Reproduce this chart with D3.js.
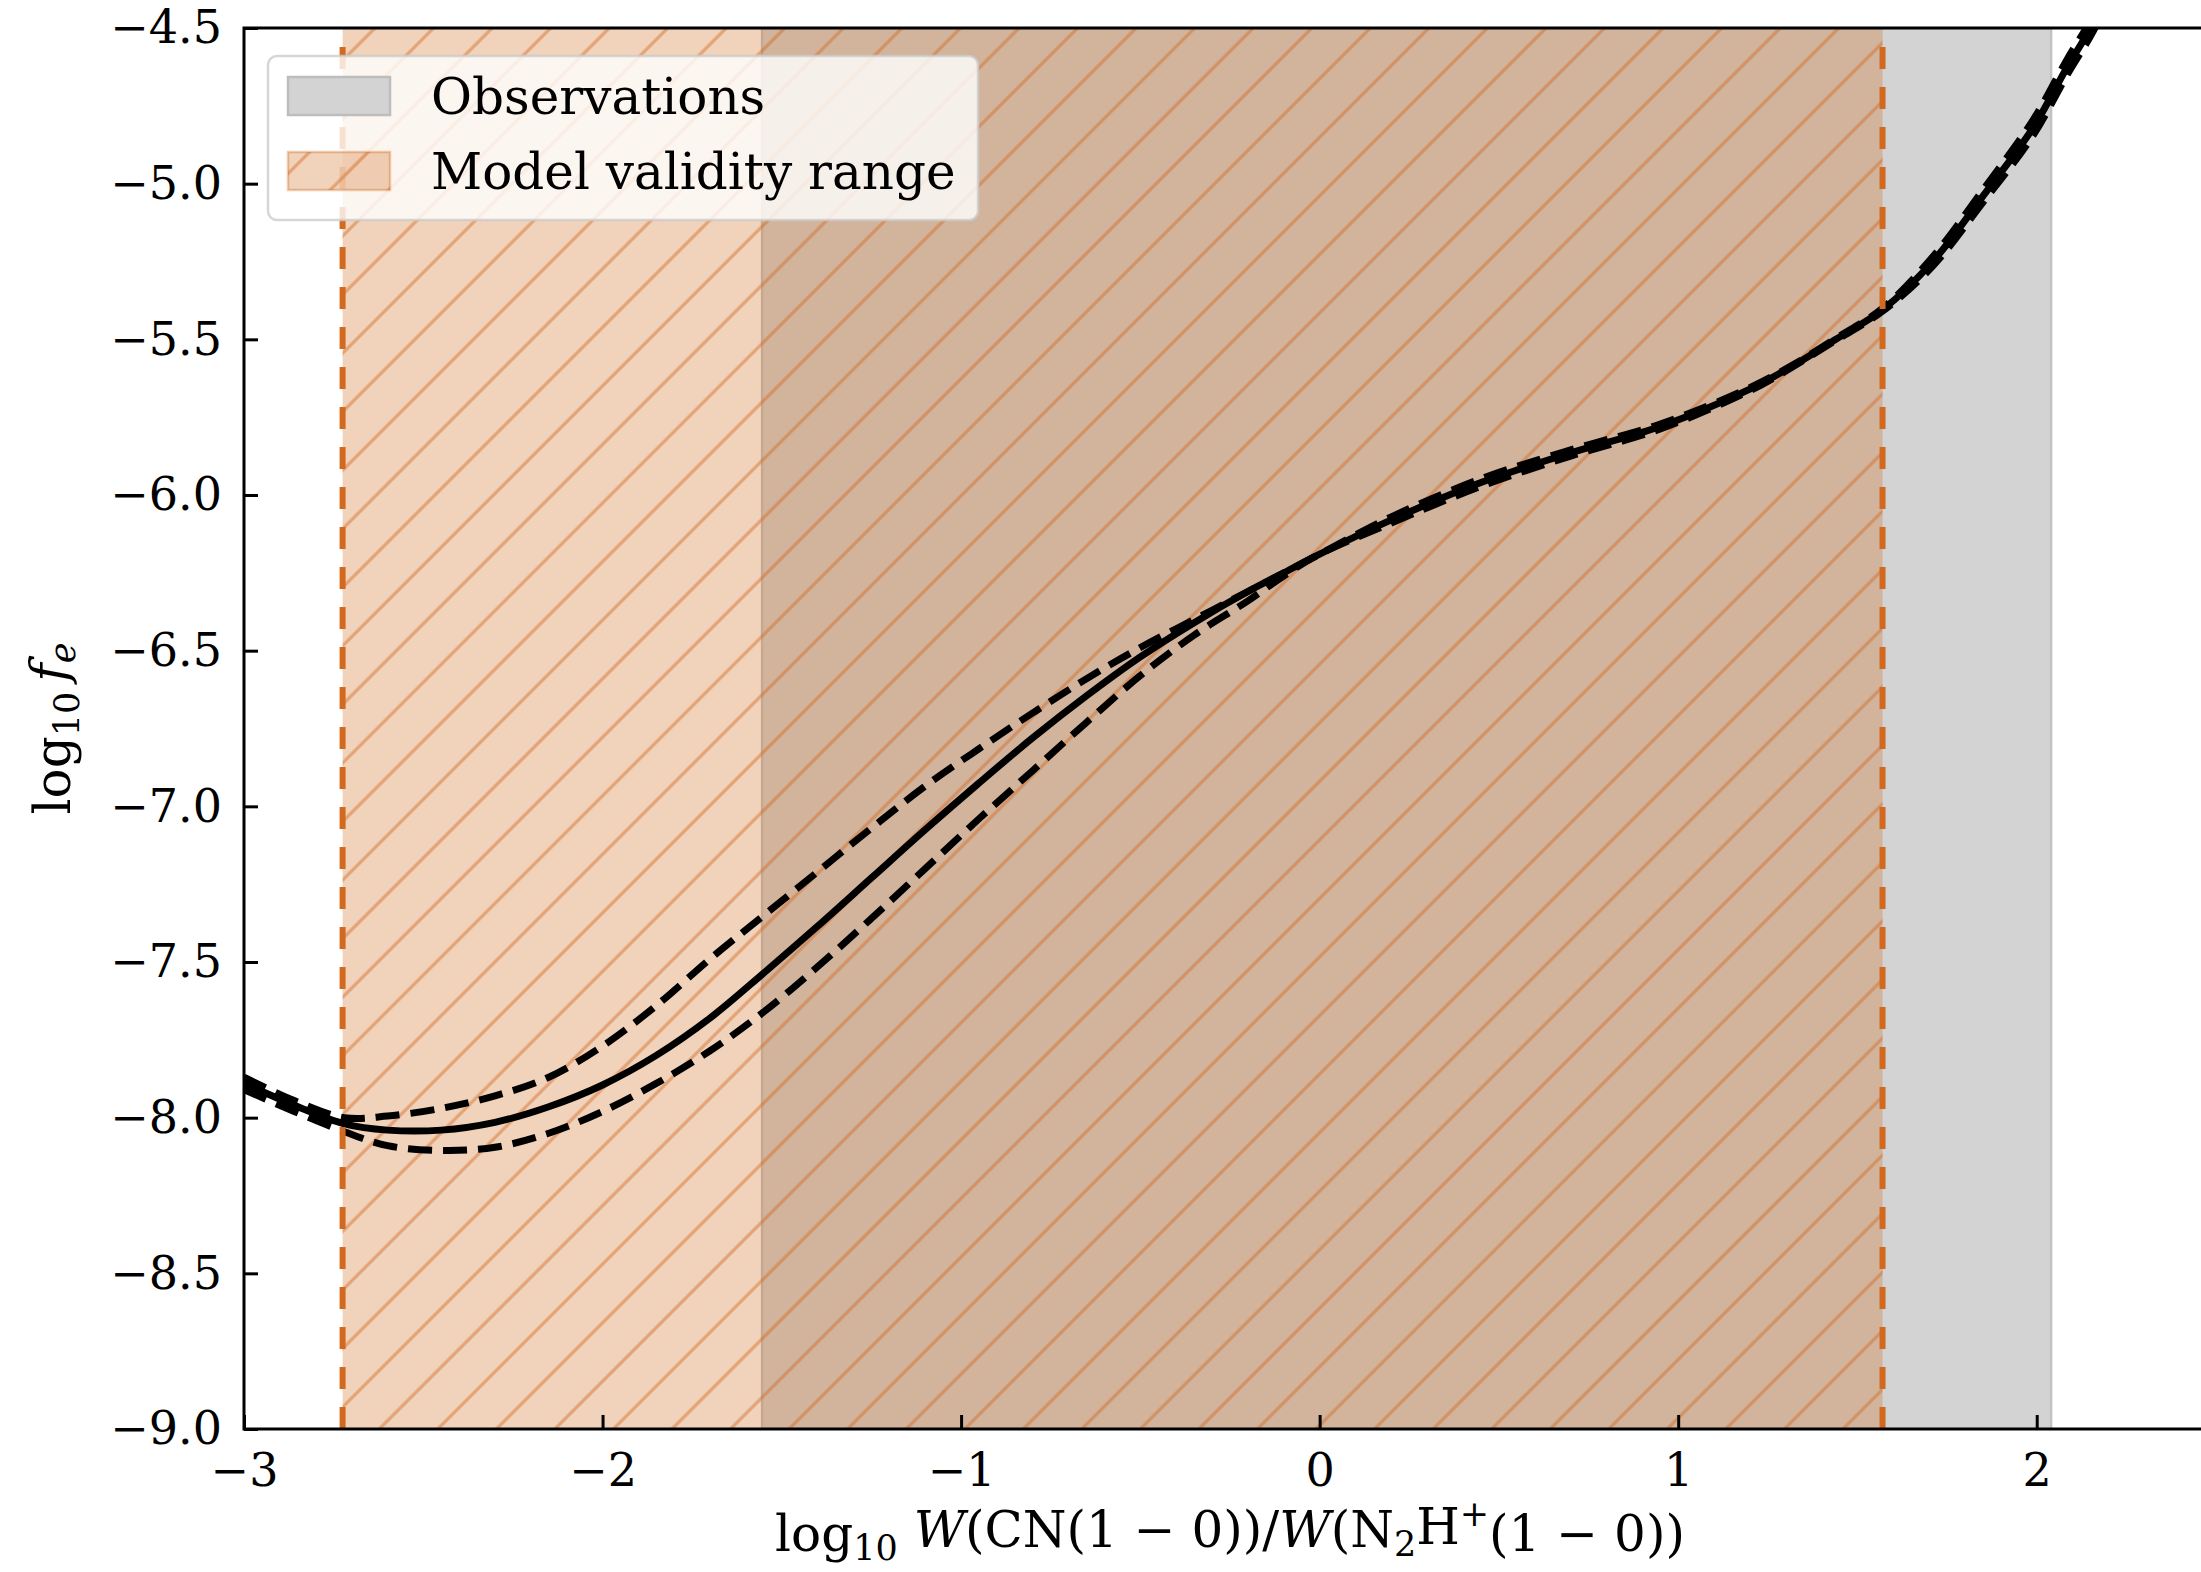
<!DOCTYPE html>
<html>
<head>
<meta charset="utf-8">
<script src="https://cdn.jsdelivr.net/npm/d3@7"></script>
<style>
  body { margin: 0; background: #ffffff; }
  svg text { font-family: "DejaVu Serif", serif; fill: #000; }
</style>
</head>
<body>
<script>
// x values of the sampled relation, log10 W(CN)/W(N2H+)
const ratioGrid = [-3.0, -2.86, -2.72, -2.6, -2.45, -2.3, -2.15, -2.0, -1.85, -1.7,
  -1.55, -1.4, -1.25, -1.1, -0.95, -0.8, -0.65, -0.5, -0.35, -0.2, -0.1, 0.0,
  0.2, 0.45, 0.7, 0.95, 1.2, 1.32, 1.44, 1.57, 1.71, 1.85, 1.99, 2.085, 2.16, 2.25];

// log10 f_e : best fit (solid) and the two bounds (dashed)
const feBest = [-7.89, -7.96, -8.02, -8.04, -8.04, -8.015, -7.965, -7.895, -7.80, -7.68,
  -7.535, -7.385, -7.23, -7.075, -6.925, -6.78, -6.645, -6.52, -6.41, -6.31, -6.25, -6.19,
  -6.08, -5.96, -5.865, -5.78, -5.66, -5.585, -5.50, -5.405, -5.25, -5.04, -4.82, -4.625, -4.48, -4.25];
const feUpper = [-7.87, -7.945, -8.0, -7.995, -7.97, -7.93, -7.87, -7.77, -7.64, -7.49,
  -7.35, -7.21, -7.07, -6.935, -6.815, -6.70, -6.59, -6.49, -6.40, -6.31, -6.25, -6.19,
  -6.07, -5.948, -5.855, -5.772, -5.655, -5.582, -5.497, -5.40, -5.235, -5.02, -4.795, -4.60, -4.455, -4.22];
const feLower = [-7.91, -7.98, -8.045, -8.09, -8.105, -8.095, -8.05, -7.98, -7.89, -7.785,
  -7.66, -7.515, -7.36, -7.20, -7.04, -6.885, -6.73, -6.58, -6.45, -6.34, -6.26, -6.19,
  -6.09, -5.972, -5.875, -5.788, -5.665, -5.588, -5.503, -5.41, -5.265, -5.06, -4.845, -4.65, -4.505, -4.28];

const obsRange = [-1.555, 2.04];
const validRange = [-2.725, 1.57];

const xTicks = [-3, -2, -1, 0, 1, 2];
const yTicks = [-4.5, -5.0, -5.5, -6.0, -6.5, -7.0, -7.5, -8.0, -8.5, -9.0];
const legendLabels = ["Observations", "Model validity range"];

const width = 2201, height = 1572;
const orange = "#d2691e";

const x = d3.scaleLinear().domain([-3, 2.5]).range([244, 2216]);
const y = d3.scaleLinear().domain([-9, -4.5]).range([1429, 28]);

const svg = d3.select("body").append("svg")
    .attr("width", width)
    .attr("height", height);

const defs = svg.append("defs");
defs.append("clipPath").attr("id", "plotclip")
  .append("rect")
    .attr("x", x.range()[0]).attr("y", y.range()[1])
    .attr("width", x.range()[1] - x.range()[0])
    .attr("height", y.range()[0] - y.range()[1]);

// '/' hatch, 45 degrees, about 58.6 px apart along x
const hatchStep = 41.4;
const hatch = defs.append("pattern")
    .attr("id", "hatch")
    .attr("patternUnits", "userSpaceOnUse")
    .attr("width", hatchStep).attr("height", hatchStep)
    .attr("patternTransform", "rotate(45)");
hatch.append("rect")
    .attr("x", 36.6 - 1.6).attr("y", 0)
    .attr("width", 3.2).attr("height", hatchStep)
    .attr("fill", "rgba(210,105,30,0.45)");

const plot = svg.append("g").attr("clip-path", "url(#plotclip)");

// observations band
plot.append("rect")
    .attr("x", x(obsRange[0])).attr("y", y(-4.5))
    .attr("width", x(obsRange[1]) - x(obsRange[0]))
    .attr("height", y(-9) - y(-4.5))
    .attr("fill", "#d3d3d3")
    .attr("stroke", "#c2c2c2").attr("stroke-width", 2.5);

// model validity band: translucent fill + hatch
plot.append("rect")
    .attr("x", x(validRange[0])).attr("y", y(-4.5))
    .attr("width", x(validRange[1]) - x(validRange[0]))
    .attr("height", y(-9) - y(-4.5))
    .attr("fill", orange).attr("fill-opacity", 0.3);
plot.append("rect")
    .attr("x", x(validRange[0])).attr("y", y(-4.5))
    .attr("width", x(validRange[1]) - x(validRange[0]))
    .attr("height", y(-9) - y(-4.5))
    .attr("fill", "url(#hatch)");

const line = d3.line()
    .x(d => x(d[0]))
    .y(d => y(d[1]))
    .curve(d3.curveCatmullRom.alpha(0.5));

const series = [
  {vals: feUpper, dash: "24,11"},
  {vals: feLower, dash: "24,11"},
  {vals: feBest, dash: null}
];
series.forEach(s => {
  plot.append("path")
      .datum(ratioGrid.map((r, i) => [r, s.vals[i]]))
      .attr("d", line)
      .attr("fill", "none")
      .attr("stroke", "#000")
      .attr("stroke-width", 7)
      .attr("stroke-dasharray", s.dash);
});

// validity limits
validRange.forEach(v => {
  plot.append("line")
      .attr("x1", x(v)).attr("x2", x(v))
      .attr("y1", y(-9)).attr("y2", y(-4.5))
      .attr("stroke", orange)
      .attr("stroke-width", 6)
      .attr("stroke-dasharray", "22,18");
});

// axes, ticks pointing inward
const xAxis = d3.axisBottom(x)
    .tickValues(xTicks)
    .tickSizeInner(-14).tickSizeOuter(0)
    .tickPadding(24)
    .tickFormat(d3.format("d"));
const yAxis = d3.axisLeft(y)
    .tickValues(yTicks)
    .tickSizeInner(-14).tickSizeOuter(0)
    .tickPadding(22)
    .tickFormat(d3.format(".1f"));

const gx = svg.append("g")
    .attr("transform", "translate(0," + y(-9) + ")")
    .call(xAxis);
const gy = svg.append("g")
    .attr("transform", "translate(" + x(-3) + ",0)")
    .call(yAxis);
[gx, gy].forEach(g => {
  g.select(".domain").remove();
  g.selectAll(".tick line").attr("stroke", "#000").attr("stroke-width", 3);
  g.selectAll(".tick text")
    .attr("fill", "#000")
    .style("font-family", "'DejaVu Serif', serif")
    .style("font-size", "46px");
});

// spines
svg.append("rect")
    .attr("x", x(-3)).attr("y", y(-4.5))
    .attr("width", x(2.5) - x(-3))
    .attr("height", y(-9) - y(-4.5))
    .attr("fill", "none")
    .attr("stroke", "#000")
    .attr("stroke-width", 3);

// legend
const leg = svg.append("g");
leg.append("rect")
    .attr("x", 268).attr("y", 56)
    .attr("width", 710).attr("height", 164)
    .attr("rx", 9)
    .attr("fill", "#fff").attr("fill-opacity", 0.8)
    .attr("stroke", "#cccccc").attr("stroke-opacity", 0.8)
    .attr("stroke-width", 2.5);

leg.append("rect")
    .attr("x", 288).attr("y", 77).attr("width", 102).attr("height", 38)
    .attr("fill", "#d3d3d3").attr("stroke", "#bdbdbd").attr("stroke-width", 2.5);
leg.append("rect")
    .attr("x", 288).attr("y", 152).attr("width", 102).attr("height", 38)
    .attr("fill", orange).attr("fill-opacity", 0.3)
    .attr("stroke", orange).attr("stroke-opacity", 0.35).attr("stroke-width", 2.5);
leg.append("rect")
    .attr("x", 288).attr("y", 152).attr("width", 102).attr("height", 38)
    .attr("fill", "url(#hatch)");

leg.selectAll("text.lab")
  .data(legendLabels)
  .enter().append("text")
    .attr("class", "lab")
    .attr("x", 431)
    .attr("y", (d, i) => 114 + i * 75)
    .style("font-size", "50px")
    .text(d => d);

// y label: log10 f_e
const yl = svg.append("text")
    .attr("transform", "translate(70," + ((y(-4.5) + y(-9)) / 2) + ") rotate(-90)")
    .attr("text-anchor", "middle")
    .style("font-size", "50px");
yl.append("tspan").text("log");
yl.append("tspan").attr("dy", "0.25em").style("font-size", "35px").text("10");
yl.append("tspan").attr("dy", "-0.25em").text("\u2009");
yl.append("tspan").style("font-style", "italic").text("f");
yl.append("tspan").attr("dy", "0.25em").style("font-size", "35px").style("font-style", "italic").text("e");

// x label: log10 W(CN(1-0))/W(N2H+(1-0))
const xl = svg.append("text")
    .attr("x", (x(-3) + x(2.5)) / 2)
    .attr("y", 1551)
    .attr("text-anchor", "middle")
    .style("font-size", "50px");
xl.append("tspan").text("log");
xl.append("tspan").attr("dy", "0.25em").style("font-size", "35px").text("10");
xl.append("tspan").attr("dy", "-0.25em").text(" ");
xl.append("tspan").style("font-style", "italic").text("W");
xl.append("tspan").text("(CN(1 \u2212 0))/");
xl.append("tspan").style("font-style", "italic").text("W");
xl.append("tspan").text("(N");
xl.append("tspan").attr("dy", "0.25em").style("font-size", "35px").text("2");
xl.append("tspan").attr("dy", "-0.25em").text("H");
xl.append("tspan").attr("dy", "-0.5em").style("font-size", "35px").text("+");
xl.append("tspan").attr("dy", "0.5em").text("(1 \u2212 0))");
</script>
</body>
</html>
